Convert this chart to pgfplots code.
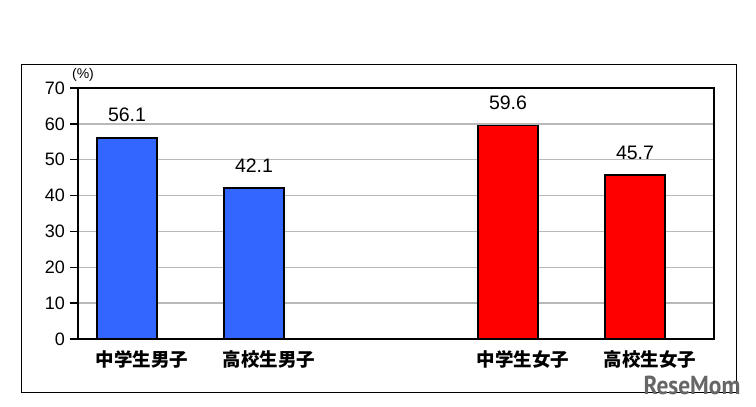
\documentclass[border=0pt]{standalone}
\usepackage{pgfplots}
\pgfplotsset{compat=1.18}
\usepackage{fontspec}
\setmainfont{Liberation Sans}
\newfontfamily\cjk{Noto Sans CJK JP}
\newfontfamily\wm{PT Sans}
\definecolor{barblue}{RGB}{51,102,255}
\definecolor{barred}{RGB}{255,0,0}
\definecolor{gridgray}{RGB}{185,185,185}
\begin{document}
\begin{tikzpicture}[x=1pt,y=1pt]
\path[fill=white] (0,0) rectangle (756,407);
\draw[line width=1pt] (21,14) rectangle (736,342);
\begin{axis}[
  at={(78pt,68pt)}, anchor=south west,
  scale only axis, width=636pt, height=251pt,
  xmin=-0.386, xmax=4.622, ymin=0, ymax=70,
  ytick={0,10,...,70},
  xtick={0,1,3,4},
  xticklabels={中学生男子,高校生男子,中学生女子,高校生女子},
  ytick pos=left,
  ybar, bar width=60pt,
  axis line style={line width=1.6pt},
  ymajorgrids, grid style={line width=1.5pt, color=gridgray},
  tick align=outside,
  major tick length=8pt,
  ytick style={line width=1.5pt, black},
  xtick style={draw=none},
  /pgf/number format/assume math mode=true,
  /pgf/number format/fixed, /pgf/number format/precision=1,
  yticklabel style={font=\fontsize{18}{18}\selectfont, inner sep=0pt, anchor=east, xshift=-5pt},
  xticklabel style={font=\cjk\bfseries\fontsize{18.5}{18.5}\selectfont, inner sep=0pt, anchor=north, xshift=15pt, yshift=-3pt},
  nodes near coords,
  nodes near coords style={font=\fontsize{19.5}{20}\selectfont, anchor=base, inner sep=0pt, yshift=16pt, black},
  every node near coord/.append style={anchor=base},
  clip=false,
]
\addplot[bar shift=0pt, fill=barblue, draw=black, line width=1.5pt] coordinates {(0,56.1) (1,42.1)};
\addplot[bar shift=0pt, fill=barred, draw=black, line width=1.5pt] coordinates {(3,59.6) (4,45.7)};
\end{axis}
\node[font=\fontsize{14}{14}\selectfont, inner sep=0pt] at (83,332) {(\%)};
\node[font=\wm\bfseries\fontsize{26}{26}\selectfont, text=gray!80!black, inner sep=0pt, xscale=0.9] at (692,22) {ReseMom};
\end{tikzpicture}
\end{document}
